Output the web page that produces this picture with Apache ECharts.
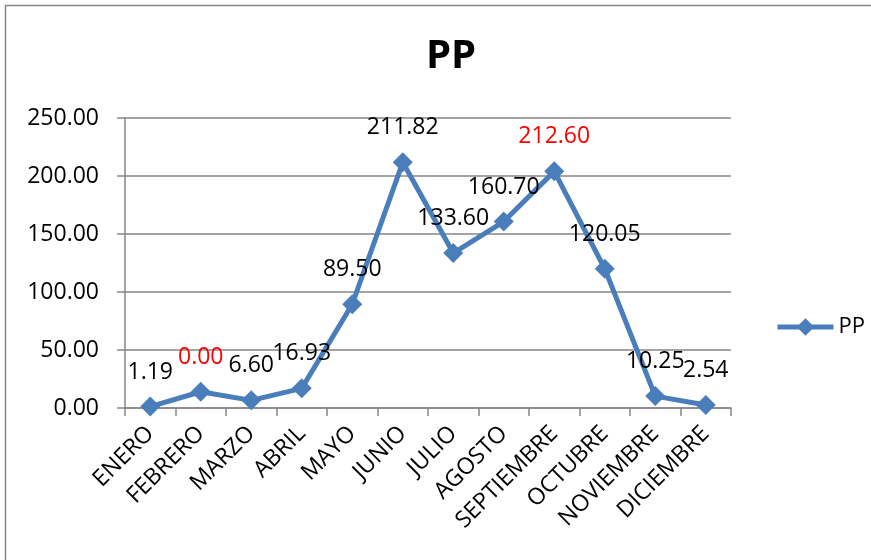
<!DOCTYPE html>
<html>
<head>
<meta charset="utf-8">
<script src="https://cdn.jsdelivr.net/npm/echarts@6/dist/echarts.min.js"></script>
<style>
  html, body { margin: 0; padding: 0; background: #fff; }
  #chart { width: 871px; height: 560px; }
</style>
</head>
<body>
<div id="chart"></div>
<script>
var months = ['ENERO', 'FEBRERO', 'MARZO', 'ABRIL', 'MAYO', 'JUNIO', 'JULIO',
	'AGOSTO', 'SEPTIEMBRE', 'OCTUBRE', 'NOVIEMBRE', 'DICIEMBRE'];
// plotted values
var ppValues = [1.19, 14, 6.60, 16.93, 89.50, 211.82, 133.60, 160.70, 204, 120.05, 10.25, 2.54];
// data label texts as printed on the chart
var ppLabels = ['1.19', '0.00', '6.60', '16.93', '89.50', '211.82', '133.60', '160.70', '212.60', '120.05', '10.25', '2.54'];
var redLabels = [1, 8];
var yTicks = [0, 50, 100, 150, 200, 250];

var font = '"Open Sans", "Noto Sans", sans-serif';
var gray = '#868686';

var seriesData = [];
for (var i = 0; i < ppValues.length; i++) {
	var item = { value: ppValues[i] };
	if (redLabels.indexOf(i) >= 0) {
		item.label = { color: '#ff0000' };
	}
	seriesData.push(item);
}

var myChart = echarts.init(document.getElementById('chart'));
myChart.setOption({
	animation: false,
	textStyle: { fontFamily: font },
	graphic: [{
		type: 'rect',
		shape: { x: 5.5, y: 5.5, width: 900, height: 600 },
		style: { fill: 'none', stroke: gray, lineWidth: 1.5 }
	}],
	title: {
		text: 'PP',
		left: 446,
		top: 32,
		textAlign: 'center',
		textStyle: { fontFamily: font, fontSize: 40, fontWeight: 'bold', color: '#000' }
	},
	legend: {
		left: 770,
		top: 311,
		itemWidth: 56,
		itemHeight: 22,
		itemGap: 4,
		lineStyle: { width: 5 },
		textStyle: { fontFamily: font, fontSize: 22, color: '#000' },
		data: ['PP']
	},
	grid: { left: 125, right: 140, top: 118, bottom: 152 },
	xAxis: {
		type: 'category',
		data: months,
		boundaryGap: true,
		axisLine: { lineStyle: { color: gray, width: 1.5 } },
		axisTick: { show: true, length: 8, lineStyle: { color: gray, width: 1.5 } },
		axisLabel: {
			rotate: 45,
			margin: 22,
			interval: 0,
			fontSize: 23,
			color: '#000',
			fontFamily: font
		}
	},
	yAxis: {
		type: 'value',
		min: yTicks[0],
		max: yTicks[yTicks.length - 1],
		interval: yTicks[1] - yTicks[0],
		axisLine: { show: true, lineStyle: { color: gray, width: 1.5 } },
		axisTick: { show: true, length: 8, lineStyle: { color: gray, width: 1.5 } },
		splitLine: { show: true, lineStyle: { color: gray, width: 1.5 } },
		axisLabel: {
			margin: 26,
			fontSize: 23,
			color: '#000',
			fontFamily: font,
			formatter: function (v) { return v.toFixed(2); }
		}
	},
	series: [{
		name: 'PP',
		type: 'line',
		data: seriesData,
		symbol: 'diamond',
		symbolSize: 20,
		itemStyle: { color: '#4a7ebb' },
		lineStyle: { color: '#4a7ebb', width: 5 },
		label: {
			show: true,
			position: 'top',
			distance: 13,
			fontSize: 23,
			color: '#000',
			fontFamily: font,
			formatter: function (p) { return ppLabels[p.dataIndex]; }
		}
	}]
});
</script>
</body>
</html>
